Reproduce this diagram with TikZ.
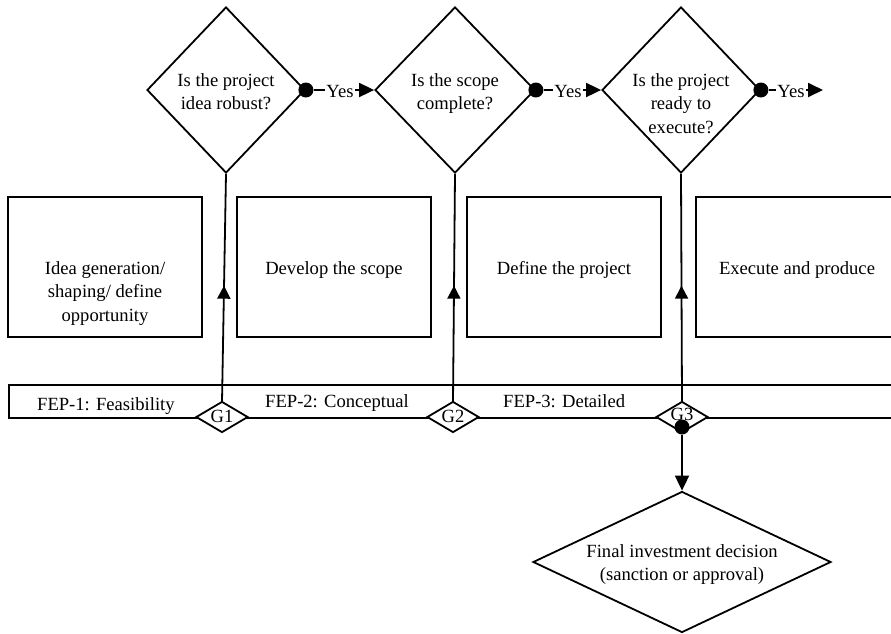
\documentclass[tikz,border=0pt]{standalone}
\usepackage{fontspec}
\setmainfont{Liberation Serif}
\usetikzlibrary{shapes.geometric,arrows.meta,decorations.markings,calc}
\begin{document}
\begin{tikzpicture}[x=1pt,y=-1pt,
  every node/.style={font=\fontsize{18.6}{23.5}\selectfont},
  dia/.style={draw, diamond, line width=1.8pt, inner sep=0pt, fill=white},
  box/.style={draw, rectangle, line width=1.8pt, minimum width=194pt, minimum height=140pt, inner sep=0pt},
  txt/.style={align=center, inner sep=0pt, anchor=north},
  tip/.style={-{Triangle[length=15pt,width=14pt]}},
  dot/.style={circle, fill=black, inner sep=0pt, minimum size=15pt},
  ln/.style={line width=1.8pt},
  midarrow/.style={postaction={decorate}, decoration={markings, mark=at position 0.51 with {\arrow{Triangle[length=13pt,width=13pt]}}}}
]
\useasboundingbox (0,0) rectangle (891,633);

% decision diamonds
\node[dia, minimum width=158pt, minimum height=166pt] (D1) at (226,90) {};
\node[dia, minimum width=160pt, minimum height=166pt] (D2) at (455,90) {};
\node[dia, minimum width=158pt, minimum height=166pt] (D3) at (681,90) {};
\node[txt] (T1) at (226,73) {Is the project\\idea robust?};
\node[txt] (T2) at (455,73) {Is the scope\\complete?};
\node[txt] (T3) at (681,73) {Is the project\\ready to\\execute?};

% boxes
\node[box] (B1) at (105,267) {};
\node[box] (B2) at (334,267) {};
\node[box] (B3) at (564,267) {};
\node[box, minimum width=200pt] (B4) at (796,267) {};
\node[txt] (BT1) at (105,261) {Idea generation/\\shaping/ define\\opportunity};
\node[txt] (BT2) at (334,261) {Develop the scope};
\node[txt] (BT3) at (564,261) {Define the project};
\node[txt] (BT4) at (797,261) {Execute and produce};

% band
\node[draw, line width=2.2pt, minimum width=892pt, minimum height=33pt, anchor=north west, inner sep=0pt] (band) at (8,384) {};
\node[anchor=base west, inner sep=0pt] (F1) at (37,410) {FEP-1: Feasibility};
\node[anchor=base west, inner sep=0pt] (F2) at (265,407) {FEP-2: Conceptual};
\node[anchor=base west, inner sep=0pt] (F3) at (503,407) {FEP-3: Detailed};

% gates
\coordinate (g1) at (222,402);
\coordinate (g2) at (453,402);
\coordinate (g3) at (682,402);
\draw[ln, midarrow] (g1) -- (D1.south);
\draw[ln, midarrow] (g2) -- (D2.south);
\draw[ln, midarrow] (g3) -- (D3.south);
\node[dia, minimum width=52pt, minimum height=31pt] (G1) at (222,417) {};
\node[dia, minimum width=52pt, minimum height=31pt] (G2) at (453,417) {};
\node[dia, minimum width=52pt, minimum height=31pt] (G3) at (682,417) {};
\node[dot] (gd) at (682,427) {};
\node[inner sep=0pt] (GL1) at (222,416) {G1};
\node[inner sep=0pt] (GL2) at (453,416) {G2};
\node[inner sep=0pt] (GL3) at (682,414) {G3};

% yes connectors
\node[dot] (d1) at (D1.east) {};
\node[dot] (d2) at (D2.east) {};
\node[dot] (d3) at (D3.east) {};
\node[anchor=base, inner sep=1.5pt] (Y1) at (340,97) {Yes};
\node[anchor=base, inner sep=1.5pt] (Y2) at (568,97) {Yes};
\node[anchor=base, inner sep=1.5pt] (Y3) at (791,97) {Yes};
\coordinate (end) at (823,90);
\draw[ln] (d1) -- (Y1.west |- d1);
\draw[ln, tip] (Y1.east |- d1) -- (D2.west);
\draw[ln] (d2) -- (Y2.west |- d2);
\draw[ln, tip] (Y2.east |- d2) -- (D3.west);
\draw[ln] (d3) -- (Y3.west |- d3);
\draw[ln, tip] (Y3.east |- d3) -- (end);

% final investment decision
\node[dia, minimum width=298pt, minimum height=141pt] (FID) at (682,562) {};
\node[txt] (FT) at (682,544) {Final investment decision\\(sanction or approval)};
\draw[ln, tip] (gd) -- (FID.north);
\end{tikzpicture}
\end{document}
